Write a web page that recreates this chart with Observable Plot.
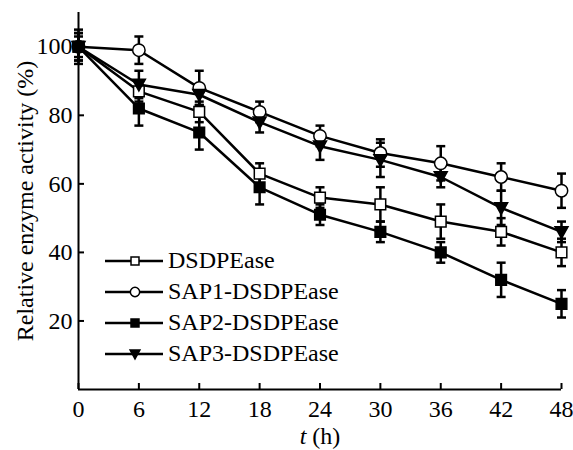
<!DOCTYPE html>
<html><head><meta charset="utf-8">
<script src="https://cdn.jsdelivr.net/npm/d3@7"></script>
<script src="https://cdn.jsdelivr.net/npm/@observablehq/plot@0.6"></script>
<style>
body{margin:0;background:#fff;}
#wrap{position:relative;width:573px;height:450px;font-family:"Liberation Serif","Times New Roman",serif;}
#legend{position:absolute;left:105px;top:245px;}
.row{display:flex;align-items:center;height:31px;font-size:24px;line-height:31px;color:#000;}
.row svg{margin-right:5px;display:block}
</style></head><body><div id="wrap"><div id="legend"></div></div>
<script>
const hours = [0, 6, 12, 18, 24, 30, 36, 42, 48];
const seriesNames = ["DSDPEase", "SAP1-DSDPEase", "SAP2-DSDPEase", "SAP3-DSDPEase"];
const dsdpease    = [100, 87, 81, 63, 56, 54, 49, 46, 40];
const dsdpeaseErr = [3, 3, 3, 3, 3, 5, 5, 4, 4];
const sap1        = [100, 99, 88, 81, 74, 69, 66, 62, 58];
const sap1Err     = [5, 4, 5, 3, 3, 4, 5, 4, 5];
const sap2        = [100, 82, 75, 59, 51, 46, 40, 32, 25];
const sap2Err     = [4, 5, 5, 5, 3, 3, 3, 5, 4];
const sap3        = [100, 89, 86, 78, 71, 67, 62, 53, 46];
const sap3Err     = [4, 4, 3, 3, 4, 5, 3, 5, 3];
const yTicks = [20, 40, 60, 80, 100];
const xTicks = [0, 6, 12, 18, 24, 30, 36, 42, 48];
const xLabel = "t (h)";
const yLabel = "Relative enzyme activity (%)";

const values = [dsdpease, sap1, sap2, sap3];
const errors = [dsdpeaseErr, sap1Err, sap2Err, sap3Err];
const rows = seriesNames.flatMap((name, i) => hours.map((h, j) => ({series: name, t: h, v: values[i][j], e: errors[i][j]})));

const triangleDown = {draw(ctx, size) { const r = Math.sqrt(size / Math.PI); ctx.moveTo(-r, -r * 0.8); ctx.lineTo(r, -r * 0.8); ctx.lineTo(0, r * 1.0); ctx.closePath(); }};
const cap = {draw(ctx, size) { const r = Math.sqrt(size / Math.PI); ctx.moveTo(-r, 0); ctx.lineTo(r, 0); }};
const styles = [
  {symbol: "square", fill: "white", r: 6},
  {symbol: "circle", fill: "white", r: 6.2},
  {symbol: "square", fill: "black", r: 6},
  {symbol: triangleDown, fill: "black", r: 6.5}
];

const plot = Plot.plot({
  width: 573, height: 450,
  marginLeft: 78, marginRight: 12, marginTop: 12, marginBottom: 61,
  style: {fontFamily: "'Liberation Serif', 'Times New Roman', serif", fontSize: "24px", color: "black", background: "white"},
  x: {domain: [0, 48]},
  y: {domain: [0, 110]},
  marks: [
    Plot.axisY({ticks: yTicks, tickSize: -6, tickPadding: 12, strokeWidth: 2, label: yLabel, labelAnchor: "center", labelOffset: 63, labelArrow: "none"}),
    Plot.axisX({ticks: xTicks, tickSize: -6, tickPadding: 16, strokeWidth: 2, label: xLabel, labelAnchor: "center", labelOffset: 54, labelArrow: "none"}),
    Plot.ruleX([0], {strokeWidth: 2}),
    Plot.ruleY([0], {strokeWidth: 2}),
    Plot.line(rows, {x: "t", y: "v", z: "series", stroke: "black", strokeWidth: 2.5}),
    Plot.ruleX(rows, {x: "t", y1: d => d.v - d.e, y2: d => d.v + d.e, stroke: "black", strokeWidth: 2.5}),
    Plot.dot(rows, {x: "t", y: d => d.v + d.e, symbol: cap, r: 4.5, stroke: "black", strokeWidth: 2.5}),
    Plot.dot(rows, {x: "t", y: d => d.v - d.e, symbol: cap, r: 4.5, stroke: "black", strokeWidth: 2.5}),
    ...seriesNames.map((name, i) => Plot.dot(rows, {filter: d => d.series === name, x: "t", y: "v", symbol: styles[i].symbol, r: styles[i].r, fill: styles[i].fill, stroke: "black", strokeWidth: 1.5}))
  ]
});

d3.select(plot).selectAll("text").filter(function() { return this.textContent === xLabel; })
  .each(function() { const t = d3.select(this); t.text(null); t.append("tspan").attr("font-style", "italic").text("t"); t.append("tspan").text(" (h)"); });

document.getElementById("wrap").prepend(plot);

const legend = d3.select("#legend");
seriesNames.forEach((name, i) => {
  const row = legend.append("div").attr("class", "row");
  const svg = row.append("svg").attr("width", 58).attr("height", 20);
  svg.append("line").attr("x1", 0).attr("x2", 58).attr("y1", 10).attr("y2", 10).attr("stroke", "black").attr("stroke-width", 2.5);
  const st = styles[i];
  const rr = st.r * 0.75;
  const size = rr * rr * Math.PI;
  const sym = st.symbol === "square" ? d3.symbolSquare : st.symbol === "circle" ? d3.symbolCircle : st.symbol;
  svg.append("path").attr("transform", "translate(30,10)").attr("d", d3.symbol(sym, size)()).attr("fill", st.fill).attr("stroke", "black").attr("stroke-width", 1.5);
  row.append("span").text(name);
});
</script></body></html>
